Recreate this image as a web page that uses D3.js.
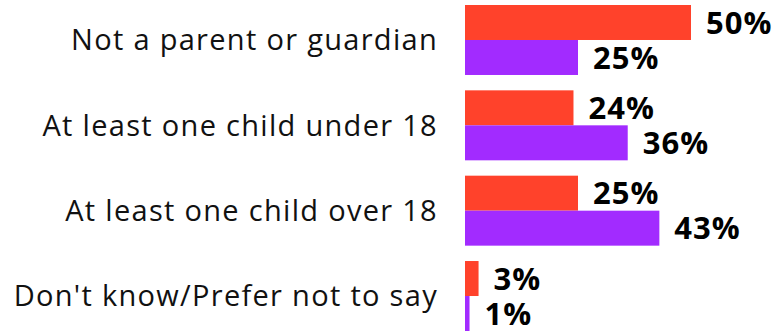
<!DOCTYPE html>
<html>
<head>
<meta charset="utf-8">
<script src="https://cdn.jsdelivr.net/npm/d3@7"></script>
<style>
  html, body { margin: 0; padding: 0; background: #fff; }
  svg { display: block; }
</style>
</head>
<body>
<svg id="chart" width="780" height="331"></svg>
<script>
// Parental status by survey group
const categories = [
  "Not a parent or guardian",
  "At least one child under 18",
  "At least one child over 18",
  "Don't know/Prefer not to say"
];
const seriesNames = ["Group A", "Group B"];
const groupA = [50, 24, 25, 3];
const groupB = [25, 36, 43, 1];
const seriesColors = ["#FF422B", "#A22BFF"];

const svg = d3.select("#chart");

const rows = categories.map((c, i) => ({
  category: c,
  values: [
    { series: seriesNames[0], value: groupA[i] },
    { series: seriesNames[1], value: groupB[i] }
  ]
}));

const y = d3.scaleBand()
  .domain(categories)
  .range([5, 331])
  .paddingInner(0.18)
  .paddingOuter(0);

const ySub = d3.scaleBand()
  .domain(seriesNames)
  .range([0, y.bandwidth()])
  .padding(0);

const x = d3.scaleLinear()
  .domain([0, d3.max([...groupA, ...groupB])])
  .range([465, 691]);

const color = d3.scaleOrdinal().domain(seriesNames).range(seriesColors);

// Category labels, right-aligned beside the bars
svg.append("g")
  .selectAll("text")
  .data(categories)
  .join("text")
  .attr("x", 438)
  .attr("y", d => y(d) + y.bandwidth() / 2)
  .attr("dy", "0.36em")
  .attr("text-anchor", "end")
  .attr("font-family", "'Open Sans', sans-serif")
  .attr("font-size", 29)
  .attr("letter-spacing", "1.3px")
  .attr("fill", "#111")
  .text(d => d);

const groups = svg.append("g")
  .selectAll("g")
  .data(rows)
  .join("g")
  .attr("transform", d => `translate(0,${y(d.category)})`);

groups.selectAll("rect")
  .data(d => d.values)
  .join("rect")
  .attr("x", x(0))
  .attr("y", d => ySub(d.series))
  .attr("width", d => x(d.value) - x(0))
  .attr("height", ySub.bandwidth())
  .attr("fill", d => color(d.series));

// Value labels at the end of each bar
groups.selectAll("text")
  .data(d => d.values)
  .join("text")
  .attr("x", d => x(d.value) + 15)
  .attr("y", d => ySub(d.series) + ySub.bandwidth() / 2)
  .attr("dy", "0.36em")
  .attr("font-family", "'Open Sans', sans-serif")
  .attr("font-weight", 700)
  .attr("font-size", 31)
  .attr("letter-spacing", "1px")
  .attr("fill", "#000")
  .text(d => d.value + "%");
</script>
</body>
</html>
